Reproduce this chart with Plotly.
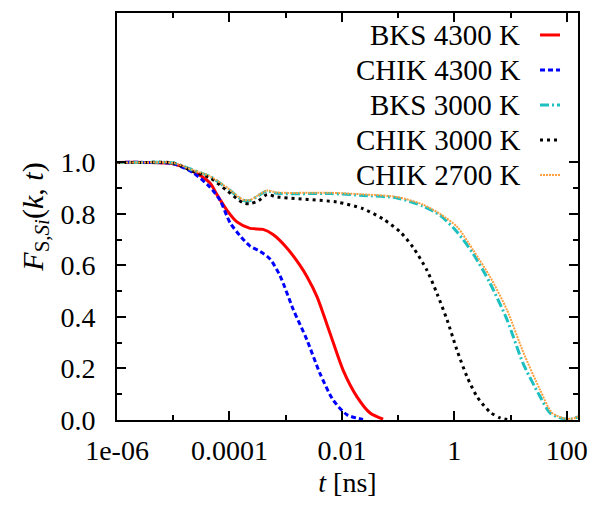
import plotly.graph_objects as go

# ---- data ----
series_names = ["BKS 4300 K", "CHIK 4300 K", "BKS 3000 K", "CHIK 3000 K", "CHIK 2700 K"]

t_bks4300 = [1e-6, 3e-6, 1e-5, 2.25e-5, 4.52e-5, 6.0e-5, 9.06e-5, 1.36e-4, 2.33e-4, 3.96e-4,
             5.97e-4, 1.06e-3, 1.80e-3, 2.40e-3, 3.62e-3, 6.17e-3, 1.05e-2, 1.86e-2,
             3.18e-2, 5.41e-2]
f_bks4300 = [1.0, 1.0, 0.995, 0.965, 0.92, 0.875, 0.814, 0.769, 0.744, 0.740,
             0.72, 0.667, 0.60, 0.556, 0.478, 0.336, 0.194, 0.09,
             0.027, 0.003]

t_chik4300 = [1e-6, 3e-6, 1e-5, 2.25e-5, 4.52e-5, 6.8e-5, 1.03e-4, 1.55e-4, 2.33e-4, 3.50e-4,
              5.27e-4, 7.94e-4, 1.36e-3, 2.40e-3, 4.09e-3, 6.97e-3, 1.24e-2, 2.38e-2]
f_chik4300 = [1.0, 1.0, 0.995, 0.96, 0.904, 0.853, 0.765, 0.715, 0.675, 0.655,
              0.625, 0.56, 0.43, 0.31, 0.18, 0.078, 0.02, 0.002]

t_bks3000 = [1e-6, 3e-6, 1e-5, 2.25e-5, 4.52e-5, 9.06e-5, 1.75e-4, 2.33e-4, 3.23e-4, 4.67e-4,
             7.03e-4, 6.17e-3, 2.38e-2, 9.6e-2, 0.279, 0.558, 1.12, 2.16, 4.34, 8.71,
             16.7, 33.7, 50.7, 86.3, 120, 160]
f_bks3000 = [1.0, 1.0, 0.998, 0.97, 0.945, 0.90, 0.853, 0.852, 0.87, 0.889,
             0.88, 0.879, 0.872, 0.862, 0.83, 0.795, 0.73, 0.646, 0.53, 0.388,
             0.22, 0.09, 0.027, 0.005, 0.004, 0.012]

t_chik3000 = [1e-6, 3e-6, 1e-5, 2.25e-5, 4.52e-5, 9.06e-5, 1.75e-4, 2.33e-4, 3.23e-4, 4.67e-4,
              7.03e-4, 8.22e-3, 2.38e-2, 5.41e-2, 0.109, 0.185, 0.328, 0.494, 0.745,
              1.12, 1.69, 2.55, 4.34, 6.53, 9.84]
f_chik3000 = [1.0, 1.0, 0.998, 0.965, 0.94, 0.89, 0.843, 0.84, 0.85, 0.875,
              0.866, 0.846, 0.82, 0.78, 0.73, 0.67, 0.58, 0.49, 0.388,
              0.27, 0.167, 0.09, 0.03, 0.008, 0.0]

t_chik2700 = [1e-6, 3e-6, 1e-5, 2.25e-5, 4.52e-5, 9.06e-5, 1.75e-4, 2.33e-4, 3.23e-4, 4.67e-4,
              7.03e-4, 6.17e-3, 2.38e-2, 9.6e-2, 0.279, 0.558, 1.12, 2.16, 4.34, 8.71,
              16.7, 33.7, 55.0, 95.0, 130, 160]
f_chik2700 = [1.0, 1.0, 0.998, 0.97, 0.946, 0.902, 0.855, 0.854, 0.872, 0.891,
              0.883, 0.882, 0.876, 0.866, 0.836, 0.80, 0.75, 0.66, 0.555, 0.426,
              0.265, 0.116, 0.027, 0.005, 0.006, 0.014]

x_tickvals = [1e-6, 1e-4, 1e-2, 1, 100]
x_ticktext = ["1e-06", "0.0001", "0.01", "1", "100"]
x_minorvals = [1e-5, 1e-3, 1e-1, 10]
y_tickvals = [0.0, 0.2, 0.4, 0.6, 0.8, 1.0]
y_ticktext = ["0.0", "0.2", "0.4", "0.6", "0.8", "1.0"]
y_minorvals = [0.1, 0.3, 0.5, 0.7, 0.9]

# ---- styles ----
FONT = "Liberation Serif"
styles = [
    dict(color="#ff0000", width=3, dash="solid"),
    dict(color="#0000ff", width=3, dash="5px,3px"),
    dict(color="#1cc0c0", width=3, dash="9px,3px,2px,3px"),
    dict(color="#000000", width=3, dash="3px,4px"),
    dict(color="#ffa040", width=2, dash="2px,1px"),
]
data = [(t_bks4300, f_bks4300), (t_chik4300, f_chik4300), (t_bks3000, f_bks3000),
        (t_chik3000, f_chik3000), (t_chik2700, f_chik2700)]

fig = go.Figure()
for name, (tt, ff), st in zip(series_names, data, styles):
    fig.add_trace(go.Scatter(x=tt, y=ff, mode="lines", name=name,
                             line=dict(color=st["color"], width=st["width"], dash=st["dash"],
                                       shape="spline", smoothing=0.7),
                             showlegend=False))

# custom legend: right-aligned text with sample line on the right
row_y = [0.946, 0.860, 0.774, 0.688, 0.602]
for name, st, yy in zip(series_names, styles, row_y):
    fig.add_annotation(xref="paper", yref="paper", x=0.8785, y=yy, text=name,
                       showarrow=False, xanchor="right", yanchor="middle",
                       font=dict(family=FONT, size=29, color="black"))
    fig.add_shape(type="line", xref="paper", yref="paper", x0=0.9176, x1=0.961,
                  y0=yy, y1=yy, line=dict(color=st["color"], width=st["width"], dash=st["dash"]))

axis_common = dict(
    showline=True, linecolor="black", linewidth=2, mirror="ticks",
    ticks="inside", ticklen=9, tickwidth=1.5, tickcolor="black",
    showgrid=False, zeroline=False, automargin=False,
    tickfont=dict(family=FONT, size=28, color="black"),
)

fig.update_xaxes(type="log", range=[-6, 2.2], tickmode="array",
                 tickvals=x_tickvals, ticktext=x_ticktext,
                 minor=dict(tickmode="array", tickvals=x_minorvals, ticks="inside",
                            ticklen=5, tickwidth=1.5, tickcolor="black", showgrid=False),
                 ticklabelstandoff=4,
                 title=dict(text="<i>t</i> [ns]", font=dict(family=FONT, size=28, color="black"),
                            standoff=8),
                 **axis_common)
fig.update_yaxes(range=[0, 1.58], tickmode="array", tickvals=y_tickvals, ticktext=y_ticktext,
                 minor=dict(tickmode="array", tickvals=y_minorvals, ticks="inside",
                            ticklen=5, tickwidth=1.5, tickcolor="black", showgrid=False),
                 ticklabelstandoff=14,
                 title=dict(text="<i>F</i><sub>S,<i>Si</i></sub>(<i>k</i>, <i>t</i>)",
                            font=dict(family=FONT, size=30, color="black"), standoff=8),
                 **axis_common)

# the page body adds an 8px offset, so the figure is sized/placed to compensate
fig.update_layout(width=593, height=504, margin=dict(l=109, r=23, t=5, b=92, autoexpand=False),
                  plot_bgcolor="white", paper_bgcolor="white",
                  font=dict(family=FONT, size=28, color="black"))

fig.write_html("out.html")
